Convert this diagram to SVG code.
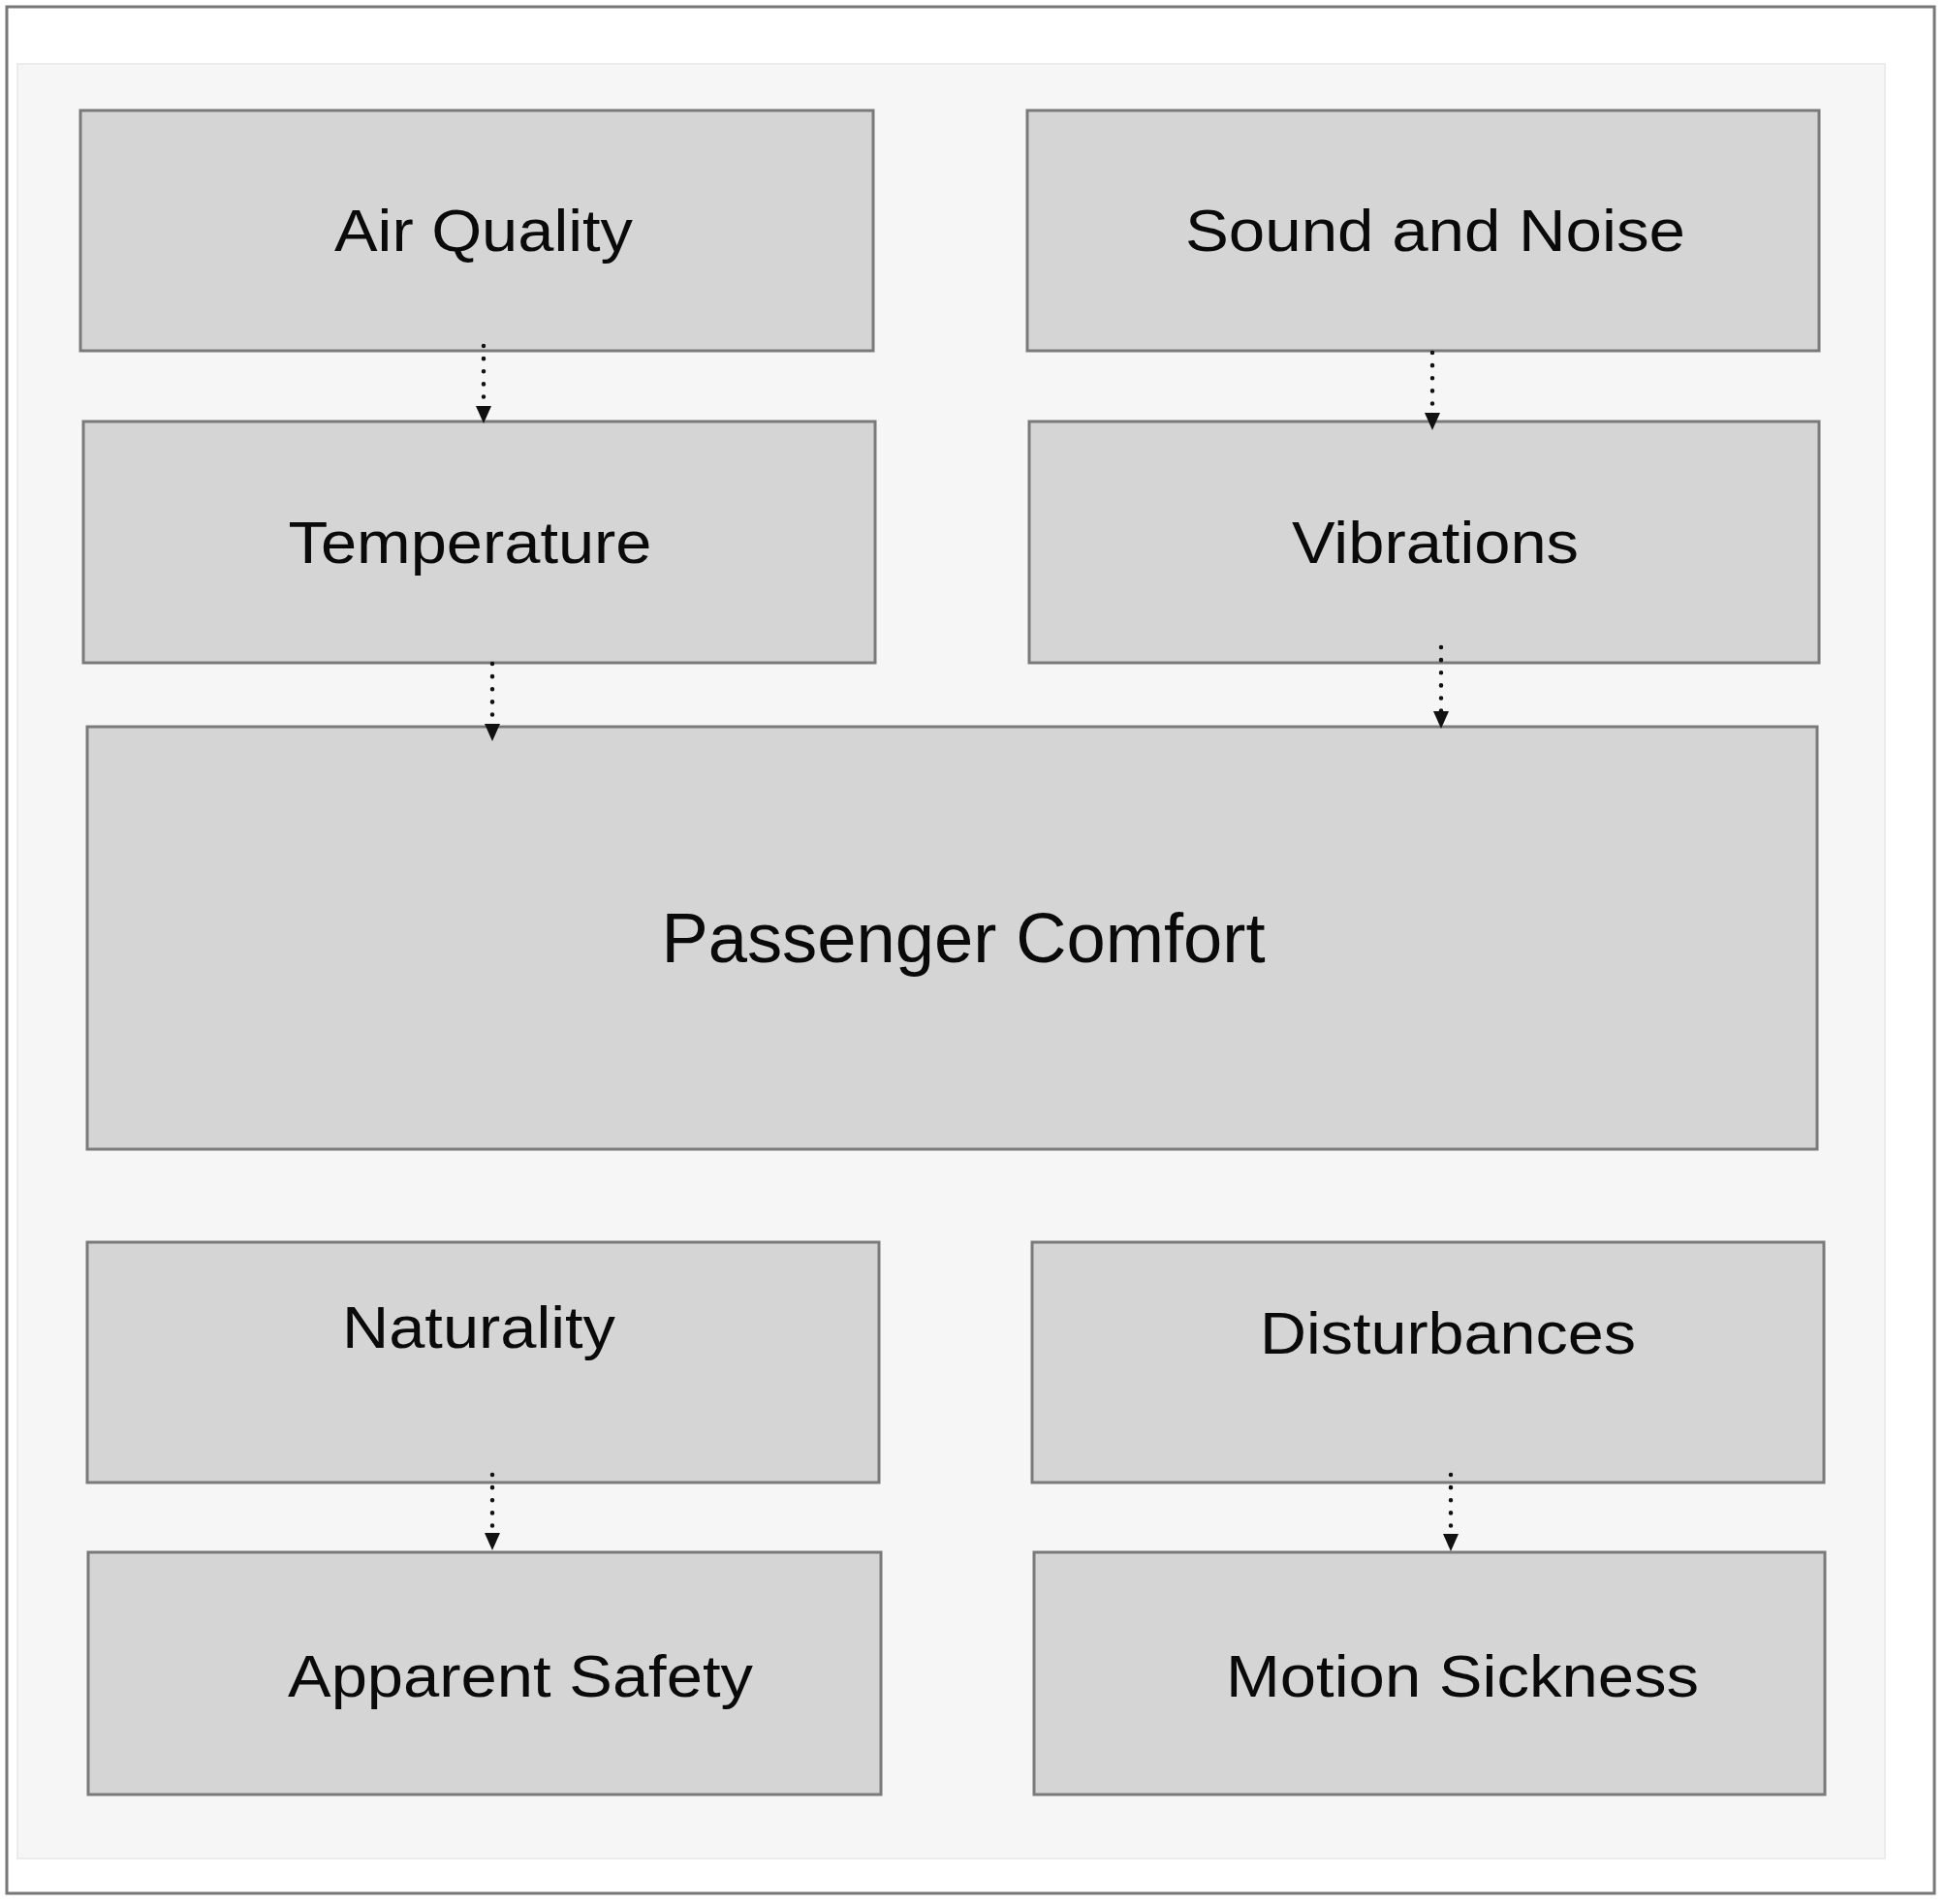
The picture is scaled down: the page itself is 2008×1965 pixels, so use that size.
<svg xmlns="http://www.w3.org/2000/svg" width="2008" height="1965" viewBox="0 0 2008 1965">
  <style>
    .frame { fill: #ffffff; stroke: #777777; stroke-width: 3; }
    .panel { fill: #f6f6f6; stroke: #ececec; stroke-width: 2; }
    .box { fill: #d5d5d5; stroke: #7a7a7a; stroke-width: 3; }
    .lbl { font-family: "Liberation Sans", Arial, Helvetica, sans-serif; font-size: 62px; fill: #0a0a0a; text-anchor: middle; }
    .big { font-size: 72px; }
    .conn { stroke: #111111; stroke-width: 4.5; stroke-linecap: round; stroke-dasharray: 0.1 13; fill: none; }
  </style>
  <defs>
    <marker id="arrow" markerUnits="userSpaceOnUse" viewBox="0 0 18 16" markerWidth="18" markerHeight="16" refX="0" refY="8" orient="auto">
      <path d="M0,0 L18,8 L0,16 Z" fill="#111111"/>
    </marker>
  </defs>

  <rect class="frame" x="7" y="7" width="1989" height="1947"/>
  <rect class="panel" x="18" y="66" width="1927" height="1852"/>

  <g id="node-air-quality">
    <rect class="box" x="83" y="114" width="818" height="248"/>
    <text class="lbl" x="499" y="259" textLength="308" lengthAdjust="spacingAndGlyphs">Air Quality</text>
  </g>
  <g id="node-sound-noise">
    <rect class="box" x="1060" y="114" width="817" height="248"/>
    <text class="lbl" x="1481" y="259" textLength="516" lengthAdjust="spacingAndGlyphs">Sound and Noise</text>
  </g>
  <g id="node-temperature">
    <rect class="box" x="86" y="435" width="817" height="249"/>
    <text class="lbl" x="485" y="581" textLength="375" lengthAdjust="spacingAndGlyphs">Temperature</text>
  </g>
  <g id="node-vibrations">
    <rect class="box" x="1062" y="435" width="815" height="249"/>
    <text class="lbl" x="1481" y="581" textLength="296" lengthAdjust="spacingAndGlyphs">Vibrations</text>
  </g>
  <g id="node-passenger-comfort">
    <rect class="box" x="90" y="750" width="1785" height="436"/>
    <text class="lbl big" x="994" y="993" textLength="623" lengthAdjust="spacingAndGlyphs">Passenger Comfort</text>
  </g>
  <g id="node-naturality">
    <rect class="box" x="90" y="1282" width="817" height="248"/>
    <text class="lbl" x="494" y="1391" textLength="282" lengthAdjust="spacingAndGlyphs">Naturality</text>
  </g>
  <g id="node-disturbances">
    <rect class="box" x="1065" y="1282" width="817" height="248"/>
    <text class="lbl" x="1494" y="1397" textLength="388" lengthAdjust="spacingAndGlyphs">Disturbances</text>
  </g>
  <g id="node-apparent-safety">
    <rect class="box" x="91" y="1602" width="818" height="250"/>
    <text class="lbl" x="537" y="1751" textLength="480" lengthAdjust="spacingAndGlyphs">Apparent Safety</text>
  </g>
  <g id="node-motion-sickness">
    <rect class="box" x="1067" y="1602" width="816" height="250"/>
    <text class="lbl" x="1509" y="1751" textLength="488" lengthAdjust="spacingAndGlyphs">Motion Sickness</text>
  </g>

  <g id="connectors">
    <line class="conn" x1="499" y1="357" x2="499" y2="419" marker-end="url(#arrow)"/>
    <line class="conn" x1="508" y1="685" x2="508" y2="747" marker-end="url(#arrow)"/>
    <line class="conn" x1="1478" y1="364" x2="1478" y2="426" marker-end="url(#arrow)"/>
    <line class="conn" x1="1487" y1="668" x2="1487" y2="734" marker-end="url(#arrow)"/>
    <line class="conn" x1="508" y1="1522" x2="508" y2="1582" marker-end="url(#arrow)"/>
    <line class="conn" x1="1497" y1="1522" x2="1497" y2="1583" marker-end="url(#arrow)"/>
  </g>
</svg>
